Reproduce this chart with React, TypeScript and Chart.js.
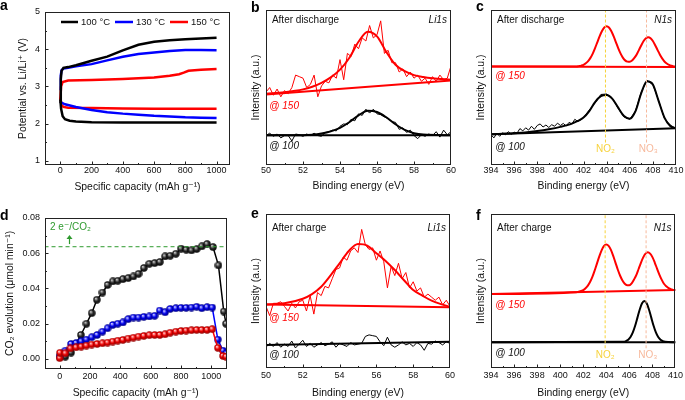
import React, { useEffect, useRef } from 'react';
import { Chart, registerables } from 'chart.js';
Chart.register(...registerables);

const FONT = "'Liberation Sans', Arial, Helvetica, 'DejaVu Sans', sans-serif";
const RED = '#ff0000';
const BLUE = '#0000ff';
const BLACK = '#000000';
const GREEN = '#2e9a2e';
const NO2C = '#f7d23c';
const NO3C = '#f7b99c';

// ---------- panel a : voltage profiles ----------
const aTicksX = [0, 200, 400, 600, 800, 1000];
const aTicksY = [1, 2, 3, 4, 5];
const aLegend = ['100 °C', '130 °C', '150 °C'];
const a100ChgX = [0, 3, 8, 20, 50, 100, 200, 300, 400, 500, 600, 700, 800, 900, 1000];
const a100ChgY = [2.55, 3.2, 3.42, 3.5, 3.52, 3.57, 3.69, 3.8, 3.97, 4.12, 4.2, 4.24, 4.27, 4.29, 4.31];
const a100DisX = [0, 5, 15, 30, 60, 100, 200, 400, 600, 800, 1000];
const a100DisY = [2.65, 2.4, 2.2, 2.12, 2.08, 2.06, 2.04, 2.03, 2.03, 2.03, 2.03];
const a130ChgX = [0, 3, 8, 20, 50, 100, 200, 300, 400, 500, 600, 700, 800, 900, 1000];
const a130ChgY = [2.9, 3.3, 3.44, 3.48, 3.5, 3.54, 3.6, 3.7, 3.8, 3.87, 3.91, 3.95, 3.98, 3.98, 3.97];
const a130DisX = [0, 10, 30, 100, 200, 300, 400, 500, 600, 700, 800, 900, 1000];
const a130DisY = [2.6, 2.56, 2.52, 2.45, 2.37, 2.31, 2.27, 2.24, 2.21, 2.19, 2.17, 2.16, 2.15];
const a150ChgX = [0, 5, 15, 50, 200, 400, 600, 700, 760, 790, 820, 900, 1000];
const a150ChgY = [2.65, 3.0, 3.12, 3.16, 3.17, 3.2, 3.24, 3.29, 3.33, 3.37, 3.42, 3.45, 3.47];
const a150DisX = [0, 8, 20, 50, 200, 400, 600, 800, 1000];
const a150DisY = [2.7, 2.5, 2.45, 2.43, 2.42, 2.41, 2.4, 2.4, 2.4];

// ---------- panel d : CO2 evolution ----------
const dTicksX = [0, 200, 400, 600, 800, 1000];
const dTicksY = [0, 0.02, 0.04, 0.06, 0.08];
const dLimit = 0.0637;
const d100X = [0, 37, 75, 107, 140, 176, 211, 245, 282, 316, 350, 383, 417, 452, 486, 520, 555, 591, 626, 660, 695, 729, 766, 800, 834, 869, 903, 937, 972, 1011, 1047, 1082, 1097];
const d100Y = [0.001, 0.0013, 0.0036, 0.0085, 0.0136, 0.02, 0.026, 0.0336, 0.0377, 0.042, 0.044, 0.0444, 0.0453, 0.0459, 0.0468, 0.0483, 0.0516, 0.054, 0.0544, 0.055, 0.0582, 0.0586, 0.0597, 0.0626, 0.062, 0.0616, 0.0624, 0.0639, 0.0652, 0.0635, 0.0531, 0.0269, 0.02];
const d130X = [0, 37, 75, 108, 142, 176, 211, 247, 282, 316, 350, 383, 417, 452, 486, 520, 555, 591, 626, 660, 695, 729, 766, 800, 834, 869, 903, 937, 972, 1006, 1043, 1077, 1097];
const d130Y = [0.0017, 0.0047, 0.0085, 0.009, 0.01, 0.011, 0.0123, 0.0136, 0.0155, 0.0174, 0.0193, 0.02, 0.0207, 0.0226, 0.0235, 0.0235, 0.0239, 0.0241, 0.0245, 0.0275, 0.0265, 0.0284, 0.0288, 0.029, 0.029, 0.0292, 0.0296, 0.0288, 0.0294, 0.0292, 0.011, 0.0047, 0.003];
const d150X = [0, 2, 37, 71, 108, 142, 176, 211, 247, 282, 316, 350, 383, 417, 452, 486, 520, 555, 591, 626, 660, 695, 729, 766, 800, 834, 869, 903, 937, 972, 1006, 1043, 1077, 1097];
const d150Y = [0.0005, 0.0035, 0.0032, 0.006, 0.0066, 0.007, 0.0076, 0.0082, 0.0085, 0.0089, 0.0093, 0.0099, 0.0104, 0.0108, 0.0116, 0.0121, 0.0127, 0.0131, 0.0135, 0.0136, 0.0136, 0.014, 0.0149, 0.0155, 0.0159, 0.0161, 0.0163, 0.0165, 0.0165, 0.0165, 0.0169, 0.0063, 0.0017, 0.0013];

// ---------- Li1s spectra (b, e) ----------
const liTicks = [50, 52, 54, 56, 58, 60];
const liX = [50, 50.2, 50.4, 50.6, 50.8, 51, 51.2, 51.4, 51.6, 51.8, 52, 52.2, 52.4, 52.6, 52.8, 53, 53.2, 53.4, 53.6, 53.8, 54, 54.2, 54.4, 54.6, 54.8, 55, 55.2, 55.4, 55.6, 55.8, 56, 56.2, 56.4, 56.6, 56.8, 57, 57.2, 57.4, 57.6, 57.8, 58, 58.2, 58.4, 58.6, 58.8, 59, 59.2, 59.4, 59.6, 59.8, 60];
const bRedRaw = [47, 50, 45, 49, 44, 48, 46, 50, 58, 57, 56, 50, 52, 58, 44, 51, 54, 53, 58, 56, 68, 55, 72, 70, 78, 75, 82, 80, 90, 82, 84, 93, 72, 74, 66, 66, 60, 62, 57, 60, 56, 58, 54, 56, 52, 57, 54, 58, 55, 56, 64];
const bRedFitX = [50, 51, 52, 52.5, 53, 53.5, 54, 54.5, 55, 55.5, 56, 56.5, 57, 57.5, 58, 58.5, 59, 60];
const bRedFitY = [46, 47, 48.8, 50.5, 53, 56.5, 61.5, 69, 79.5, 86, 83, 73, 64.7, 60.5, 58, 56.8, 56, 55];
const bRedBaseX = [50, 60];
const bRedBaseY = [45.5, 54.5];
const bBlkRaw = [19, 20.5, 18.5, 20, 17.5, 19, 19, 15.5, 20, 19.5, 18.5, 20, 19, 20.5, 19, 18.5, 21, 21.5, 22.5, 22, 25, 26.5, 26, 29.5, 28.5, 33, 32, 36, 33.5, 36, 33, 32.5, 31, 30, 28, 27.5, 23, 24, 21, 22.5, 19, 17, 19.5, 18.5, 20, 19, 21.5, 18, 22.5, 19.5, 21.5];
const bBlkFitX = [50, 52, 52.5, 53, 53.5, 54, 54.5, 55, 55.5, 56, 56.5, 57, 57.5, 58, 58.5, 60];
const bBlkFitY = [19.2, 19.2, 19.5, 20.3, 21.7, 24, 27.6, 32, 35, 34.2, 30.8, 26.3, 22.6, 20.5, 19.6, 19.2];
const bBlkBaseX = [50, 60];
const bBlkBaseY = [19.2, 19.2];

const eRedRaw = [40, 34, 42, 42, 43, 40, 37, 42, 39, 43, 44, 37, 47, 35, 49, 47, 53, 52, 58, 64, 65, 72, 70, 76, 78, 75, 90, 80, 77, 78, 70, 76, 69, 52, 66, 60, 68, 58, 62, 52, 56, 50, 52, 46, 48, 46, 44, 46, 41, 44, 40];
const eRedFitX = [50, 51, 52, 52.5, 53, 53.5, 54, 54.5, 55, 55.5, 56, 56.5, 57, 57.5, 58, 58.5, 59, 59.5, 60];
const eRedFitY = [41.3, 42, 45, 48, 52.8, 60, 68, 76, 80.5, 79.5, 74.5, 69.5, 63.6, 57, 50.6, 47, 43.7, 41.5, 39.8];
const eRedBaseX = [50, 60];
const eRedBaseY = [41.3, 39.4];
const eBlkRaw = [13.5, 16, 14, 16.5, 13.5, 15.5, 14, 17.5, 13, 15.5, 18, 14, 16, 13.5, 15, 16.5, 14.5, 15.5, 17, 13.5, 16, 15, 14, 16.5, 15, 15.5, 16, 20.5, 21.5, 21, 20.5, 17, 14.5, 20, 15, 13.5, 15, 17, 15, 16, 14, 16.5, 15, 11.5, 16, 15.5, 17.5, 16.5, 15, 17, 16];
const eBlkBaseX = [50, 60];
const eBlkBaseY = [15, 17];

// ---------- N1s spectra (c, f) ----------
const nTicks = [394, 396, 398, 400, 402, 404, 406, 408, 410];
const no2Pos = 403.9;
const no3Pos = 407.45;
const cRedFitX = [394, 401.4, 401.6, 401.8, 402, 402.2, 402.4, 402.6, 402.8, 403, 403.2, 403.4, 403.6, 403.8, 404, 404.2, 404.4, 404.6, 404.8, 405, 405.2, 405.4, 405.6, 405.8, 406, 406.2, 406.4, 406.6, 406.8, 407, 407.2, 407.4, 407.6, 407.8, 408, 408.2, 408.4, 408.6, 408.8, 409, 409.2, 409.4, 409.6, 409.8, 410];
const cRedFitY = [63.5, 63.5, 63.8, 64.1, 64.6, 65.6, 67.0, 69.1, 71.9, 75.4, 79.3, 83.1, 86.4, 88.7, 89.5, 88.7, 86.4, 83.1, 79.3, 75.4, 72.0, 69.3, 67.5, 66.7, 66.6, 67.4, 69.1, 71.3, 74.3, 77.3, 80.0, 81.8, 82.5, 81.8, 80.0, 77.3, 74.3, 71.3, 68.8, 66.8, 65.5, 64.6, 64.0, 63.6, 63.5];
const cRedBaseX = [394, 410];
const cRedBaseY = [63.6, 63.3];
const cBlkRawX = [394, 394.25, 394.5, 394.75, 395, 395.25, 395.5, 395.75, 396, 396.25, 396.5, 396.75, 397, 397.25, 397.5, 397.75, 398, 398.25, 398.5, 398.75, 399, 399.25, 399.5, 399.75, 400, 400.25, 400.5, 400.75, 401, 401.25, 401.5, 401.75, 402, 402.5, 403, 403.5, 404, 404.5, 405, 405.5, 406, 406.5, 407, 407.5, 408, 408.5, 409, 409.5, 410];
const cBlkRawY = [19.5, 17.5, 20.5, 18.5, 20.8, 19.5, 21.5, 19.8, 21.2, 20.5, 23.5, 22, 24, 22.5, 25, 23, 25.5, 26.5, 24.5, 25.8, 24.2, 26, 25, 27, 25.5, 26.8, 25.2, 27.5, 26.5, 29.5, 28, 29, 30.5, 35.5, 40, 45.5, 45.8, 43, 36.5, 31, 29.5, 35, 47, 54.5, 52, 41.5, 30, 25.8, 23.5];
const cBlkFitX = [394, 396, 398, 399, 400, 401, 401.5, 402, 402.5, 403, 403.5, 404, 404.5, 405, 405.5, 406, 406.5, 407, 407.5, 408, 408.5, 409, 409.5, 410];
const cBlkFitY = [19.9, 20.5, 22, 23.1, 24.6, 26.7, 28.4, 30.6, 34.8, 40.6, 44.4, 45.2, 42.7, 37, 31.6, 29.9, 34.8, 46.6, 54, 51.9, 41.2, 30.6, 25.2, 23.7];
const cBlkBaseX = [394, 410];
const cBlkBaseY = [19.9, 23.7];

const fRedFitX = [394, 401.4, 401.6, 401.8, 402, 402.2, 402.4, 402.6, 402.8, 403, 403.2, 403.4, 403.6, 403.8, 404, 404.2, 404.4, 404.6, 404.8, 405, 405.2, 405.4, 405.6, 405.8, 406, 406.2, 406.4, 406.6, 406.8, 407, 407.2, 407.4, 407.6, 407.8, 408, 408.2, 408.4, 408.6, 408.8, 409, 409.2, 409.4, 409.6, 409.8, 410];
const fRedFitY = [48.0, 49.2, 49.6, 50.0, 50.6, 51.8, 53.5, 56.0, 59.3, 63.5, 68.1, 72.6, 76.6, 79.3, 80.2, 79.3, 76.7, 72.8, 68.3, 63.8, 59.9, 56.8, 54.7, 53.8, 53.8, 55.0, 57.4, 60.3, 64.3, 68.3, 71.8, 74.3, 75.2, 74.3, 72.0, 68.5, 64.5, 60.7, 57.4, 54.7, 53.1, 51.9, 51.2, 50.6, 50.6];
const fRedBaseX = [394, 410];
const fRedBaseY = [48, 50.6];
const fBlkFitX = [394, 405.5, 405.7, 405.9, 406.1, 406.3, 406.5, 406.7, 406.9, 407.1, 407.3, 407.5, 407.7, 407.9, 408.1, 408.3, 408.5, 408.7, 408.9, 409.1, 410];
const fBlkFitY = [16.7, 17.0, 17.4, 18.3, 20.1, 23.1, 27.4, 32.7, 38.0, 42.0, 43.5, 42.0, 38.0, 32.7, 27.4, 23.1, 20.1, 18.3, 17.4, 17.0, 16.7];
const fBlkBaseX = [394, 410];
const fBlkBaseY = [16.7, 16.7];

// ---------- helpers ----------
type Geo = { w: number; h: number; L: number; T: number; R: number; B: number };
type Txt = { t: string; x: number; y: number; c?: string; f?: string; al?: CanvasTextAlign; px?: boolean };
type DecoCfg = {
  letter: string; lx: number; ly: number;
  xMajor: number[]; yMajor?: number[];
  texts: Txt[];
  legend?: { c: string; t: string; x1: number; x2: number; tx: number; y: number }[];
  arrow?: { x: number; y1: number; y2: number; c: string };
};

const f10 = `10px ${FONT}`;
const i10 = `italic 10px ${FONT}`;

function pts(xs: number[], ys: number[]) {
  return xs.map((x, i) => ({ x, y: ys[i] }));
}
function line(xs: number[], ys: number[], color: string, width: number, extra: any = {}) {
  return { data: pts(xs, ys), borderColor: color, backgroundColor: color, borderWidth: width, pointRadius: 0, tension: 0, ...extra };
}
function minors(major: number[], min: number, max: number) {
  const step = major[1] - major[0];
  const out: number[] = [major[0] - step / 2];
  major.forEach((v) => out.push(v + step / 2));
  return out.filter((v) => v > min && v < max);
}

function deco(d: DecoCfg) {
  return {
    id: 'deco',
    afterDraw(chart: any) {
      const ctx = chart.ctx as CanvasRenderingContext2D;
      const a = chart.chartArea;
      const xs = chart.scales.x;
      const ys = chart.scales.y;
      ctx.save();
      ctx.strokeStyle = '#222';
      ctx.lineWidth = 1;
      ctx.beginPath();
      const tx = (v: number, len: number) => {
        const p = Math.round(xs.getPixelForValue(v)) + 0.5;
        if (p < a.left + 1 || p > a.right - 1) return;
        ctx.moveTo(p, a.bottom);
        ctx.lineTo(p, a.bottom - len);
      };
      const ty = (v: number, len: number) => {
        const p = Math.round(ys.getPixelForValue(v)) + 0.5;
        if (p < a.top + 1 || p > a.bottom - 1) return;
        ctx.moveTo(a.left, p);
        ctx.lineTo(a.left + len, p);
      };
      d.xMajor.forEach((v) => tx(v, 3.5));
      minors(d.xMajor, xs.min, xs.max).forEach((v) => tx(v, 2));
      if (d.yMajor) {
        d.yMajor.forEach((v) => ty(v, 3.5));
        minors(d.yMajor, ys.min, ys.max).forEach((v) => ty(v, 2));
      }
      ctx.stroke();
      ctx.strokeRect(Math.round(a.left) + 0.5, Math.round(a.top) + 0.5, Math.round(a.right - a.left) - 1, Math.round(a.bottom - a.top) - 1);

      for (const t of d.texts) {
        ctx.font = t.f || f10;
        ctx.fillStyle = t.c || '#111';
        ctx.textAlign = t.al || 'left';
        ctx.textBaseline = 'middle';
        const px = t.px ? t.x : xs.getPixelForValue(t.x);
        const py = t.px ? t.y : ys.getPixelForValue(t.y);
        ctx.fillText(t.t, px, py);
      }
      if (d.legend) {
        for (const l of d.legend) {
          ctx.strokeStyle = l.c;
          ctx.lineWidth = 2.5;
          ctx.beginPath();
          ctx.moveTo(l.x1, l.y);
          ctx.lineTo(l.x2, l.y);
          ctx.stroke();
          ctx.font = `9.5px ${FONT}`;
          ctx.fillStyle = '#111';
          ctx.textAlign = 'left';
          ctx.textBaseline = 'middle';
          ctx.fillText(l.t, l.tx, l.y);
        }
      }
      if (d.arrow) {
        const ar = d.arrow;
        const x = Math.round(xs.getPixelForValue(ar.x)) + 0.5;
        const y1 = ys.getPixelForValue(ar.y1);
        const y2 = ys.getPixelForValue(ar.y2);
        ctx.strokeStyle = ar.c;
        ctx.fillStyle = ar.c;
        ctx.lineWidth = 1.2;
        ctx.beginPath();
        ctx.moveTo(x, y1);
        ctx.lineTo(x, y2 + 3);
        ctx.stroke();
        ctx.beginPath();
        ctx.moveTo(x, y2);
        ctx.lineTo(x - 3, y2 + 4);
        ctx.lineTo(x + 3, y2 + 4);
        ctx.closePath();
        ctx.fill();
      }
      ctx.font = `bold 14px ${FONT}`;
      ctx.fillStyle = '#000';
      ctx.textAlign = 'left';
      ctx.textBaseline = 'alphabetic';
      ctx.fillText(d.letter, d.lx, d.ly);
      ctx.restore();
    },
  };
}

function scaleX(g: Geo, min: number, max: number, ticks: number[], title: string, titlePad: number, tickPad: number) {
  return {
    type: 'linear', position: 'bottom', min, max,
    grid: { display: false, drawTicks: false },
    border: { display: false },
    afterBuildTicks: (s: any) => { s.ticks = ticks.map((v) => ({ value: v })); },
    afterFit: (s: any) => { s.height = g.h - g.B; },
    ticks: { color: '#111', padding: tickPad, maxRotation: 0, autoSkip: false, font: { family: FONT, size: 9 }, callback: (v: any) => String(v) },
    title: { display: true, text: title, color: '#111', font: { family: FONT, size: 10.4 }, padding: { top: 0, bottom: titlePad } },
  };
}
function scaleY(g: Geo, min: number, max: number, ticks: number[] | null, title: string, titlePad: number, fmt: (v: number) => string) {
  return {
    type: 'linear', position: 'left', min, max,
    grid: { display: false, drawTicks: false },
    border: { display: false },
    afterBuildTicks: (s: any) => { if (ticks) s.ticks = ticks.map((v) => ({ value: v })); },
    afterFit: (s: any) => { s.width = g.L; },
    ticks: { display: !!ticks, color: '#111', padding: 5, font: { family: FONT, size: 9 }, callback: (v: any) => fmt(Number(v)) },
    title: { display: true, text: title, color: '#111', font: { family: FONT, size: 10.4 }, padding: { top: titlePad, bottom: 0 } },
  };
}
function config(g: Geo, datasets: any[], x: any, y: any, d: DecoCfg) {
  return {
    type: 'line',
    data: { datasets },
    options: {
      animation: false, responsive: false, devicePixelRatio: 1, events: [],
      layout: { padding: { left: 0, top: g.T, right: g.w - g.R, bottom: 0 } },
      plugins: { legend: { display: false }, tooltip: { enabled: false } },
      scales: { x, y },
    },
    plugins: [deco(d)],
  } as any;
}

function sphere(dark: string, mid: string, light: string) {
  const c = document.createElement('canvas');
  c.width = 8;
  c.height = 8;
  const g = c.getContext('2d')!;
  const grad = g.createRadialGradient(2.8, 2.6, 0.1, 4, 4, 3.9);
  grad.addColorStop(0, '#ffffff');
  grad.addColorStop(0.18, light);
  grad.addColorStop(0.5, mid);
  grad.addColorStop(1, dark);
  g.fillStyle = grad;
  g.beginPath();
  g.arc(4, 4, 3.7, 0, Math.PI * 2);
  g.fill();
  return c;
}

// ---------- panel builders ----------
const gA: Geo = { w: 232, h: 200, L: 45, T: 12, R: 230, B: 165 };
const gB: Geo = { w: 225, h: 200, L: 34, T: 10, R: 219, B: 165 };
const gC: Geo = { w: 228, h: 200, L: 34, T: 10, R: 219, B: 165 };
const gD: Geo = { w: 232, h: 200, L: 45, T: 18, R: 230, B: 169 };
const gE: Geo = { w: 225, h: 200, L: 34, T: 14, R: 219, B: 168 };
const gF: Geo = { w: 228, h: 200, L: 34, T: 14, R: 219, B: 168 };

const capTitle = 'Specific capacity (mAh g\u207B\u00B9)';
const beTitle = 'Binding energy (eV)';
const intTitle = 'Intensity (a.u.)';

function makeA() {
  const ds = [
    line(a100ChgX, a100ChgY, BLACK, 2.5),
    line(a100DisX, a100DisY, BLACK, 2.5),
    line(a130ChgX, a130ChgY, BLUE, 2.5),
    line(a130DisX, a130DisY, BLUE, 2.5),
    line(a150ChgX, a150ChgY, RED, 2.5),
    line(a150DisX, a150DisY, RED, 2.5),
  ];
  return config(gA, ds,
    scaleX(gA, -98, 1086, aTicksX, capTitle, 6.8, 0),
    scaleY(gA, 0.89, 5, aTicksY, 'Potential vs. Li/Li\u207A (V)', 16.8, (v) => String(v)),
    {
      letter: 'a', lx: 0, ly: 10, xMajor: aTicksX, yMajor: aTicksY, texts: [],
      legend: [
        { c: BLACK, t: aLegend[0], x1: 61, x2: 78, tx: 81, y: 22 },
        { c: BLUE, t: aLegend[1], x1: 115, x2: 133, tx: 136, y: 22 },
        { c: RED, t: aLegend[2], x1: 170, x2: 188, tx: 191, y: 22 },
      ],
    });
}

function makeD() {
  const pd = { pointRadius: 3.5, borderWidth: 1.5 };
  const ds = [
    line([-100, 1100], [dLimit, dLimit], GREEN, 1, { borderDash: [4, 3] }),
    line(d150X, d150Y, RED, 1.5, { ...pd, pointStyle: sphere('#8a0000', '#ee0000', '#ff9a9a') }),
    line(d130X, d130Y, BLUE, 1.5, { ...pd, pointStyle: sphere('#00007a', '#0000ee', '#9a9aff') }),
    line(d100X, d100Y, BLACK, 1.5, { ...pd, pointStyle: sphere('#000000', '#2a2a2a', '#a0a0a0') }),
  ];
  return config(gD, ds,
    scaleX(gD, -97, 1100, dTicksX, capTitle, 0.8, 2),
    scaleY(gD, -0.0057, 0.08, dTicksY, 'CO\u2082 evolution (\u03BCmol min\u207B\u00B9)', 3.8, (v) => v.toFixed(2)),
    {
      letter: 'd', lx: 0, ly: 20, xMajor: dTicksX, yMajor: [0, 0.02, 0.04, 0.06],
      texts: [{ t: '2 e\u207B/CO\u2082', x: 50, y: 27, c: GREEN, px: true }],
      arrow: { x: 64.5, y1: 0.0652, y2: 0.0703, c: GREEN },
    });
}

function makeLi(g: Geo, letter: string, ly: number, state: string, red: any[], blk: any[], t150: number, t100: number, tTop: number) {
  return config(g, [...blk, ...red],
    scaleX(g, 50, 60, liTicks, beTitle, g.B > 166 ? 0.8 : 7.8, g.B > 166 ? 2 : 0),
    scaleY(g, 0, 100, null, intTitle, 17.8, (v) => String(v)),
    {
      letter, lx: 19, ly, xMajor: liTicks,
      texts: [
        { t: state, x: 50.32, y: tTop },
        { t: 'Li1s', x: 59.78, y: tTop, f: i10, al: 'right' },
        { t: '@ 150', x: 50.18, y: t150, f: i10, c: RED },
        { t: '@ 100', x: 50.18, y: t100, f: i10 },
      ],
    });
}

function makeN(g: Geo, letter: string, ly: number, state: string, red: any[], blk: any[], t150: number, t100: number, tTop: number, tNO: number, dashLow: number) {
  const ds = [
    line([no2Pos, no2Pos], [dashLow, 100], NO2C, 1, { borderDash: [3, 2] }),
    line([no3Pos, no3Pos], [dashLow, 100], NO3C, 1, { borderDash: [3, 2] }),
    ...blk, ...red,
  ];
  return config(g, ds,
    scaleX(g, 394, 410, nTicks, beTitle, g.B > 166 ? 0.8 : 7.8, g.B > 166 ? 2 : 0),
    scaleY(g, 0, 100, null, intTitle, 17.8, (v) => String(v)),
    {
      letter, lx: 19, ly, xMajor: nTicks,
      texts: [
        { t: state, x: 394.52, y: tTop },
        { t: 'N1s', x: 409.65, y: tTop, f: i10, al: 'right' },
        { t: '@ 150', x: 394.37, y: t150, f: i10, c: RED },
        { t: '@ 100', x: 394.37, y: t100, f: i10 },
        { t: 'NO\u2082', x: no2Pos, y: tNO, c: NO2C, al: 'center' },
        { t: 'NO\u2083', x: no3Pos + 0.15, y: tNO, c: NO3C, al: 'center' },
      ],
    });
}

function makeB() {
  return makeLi(gB, 'b', 12, 'After discharge',
    [line(liX, bRedRaw, RED, 1), line(bRedBaseX, bRedBaseY, RED, 2), line(bRedFitX, bRedFitY, RED, 2, { cubicInterpolationMode: 'monotone' })],
    [line(liX, bBlkRaw, BLACK, 1), line(bBlkBaseX, bBlkBaseY, BLACK, 2), line(bBlkFitX, bBlkFitY, BLACK, 2, { cubicInterpolationMode: 'monotone' })],
    38, 12.4, 93.6);
}
function makeE() {
  return makeLi(gE, 'e', 18, 'After charge',
    [line(liX, eRedRaw, RED, 1), line(eRedBaseX, eRedBaseY, RED, 2), line(eRedFitX, eRedFitY, RED, 2, { cubicInterpolationMode: 'monotone' })],
    [line(liX, eBlkRaw, BLACK, 1), line(eBlkBaseX, eBlkBaseY, BLACK, 2)],
    32.3, 8, 90.7);
}
function makeC() {
  return makeN(gC, 'c', 11, 'After discharge',
    [line(cRedBaseX, cRedBaseY, RED, 2), line(cRedFitX, cRedFitY, RED, 2, { cubicInterpolationMode: 'monotone' })],
    [line(cBlkRawX, cBlkRawY, BLACK, 1), line(cBlkBaseX, cBlkBaseY, BLACK, 2), line(cBlkFitX, cBlkFitY, BLACK, 2, { cubicInterpolationMode: 'monotone' })],
    57.2, 11.3, 93.6, 10.3, 14.5);
}
function makeF() {
  return makeN(gF, 'f', 20, 'After charge',
    [line(fRedBaseX, fRedBaseY, RED, 2), line(fRedFitX, fRedFitY, RED, 2, { cubicInterpolationMode: 'monotone' })],
    [line(fBlkBaseX, fBlkBaseY, BLACK, 2), line(fBlkFitX, fBlkFitY, BLACK, 2, { cubicInterpolationMode: 'monotone' })],
    40.9, 9.9, 90.7, 8, 12.8);
}

function Panel({ left, top, g, make }: { left: number; top: number; g: Geo; make: () => any }) {
  const ref = useRef<HTMLCanvasElement>(null);
  useEffect(() => {
    const chart = new Chart(ref.current as HTMLCanvasElement, make());
    return () => chart.destroy();
  }, []);
  return <canvas ref={ref} width={g.w} height={g.h} style={{ position: 'absolute', left, top, width: g.w, height: g.h }} />;
}

export default function App() {
  return (
    <div style={{ position: 'absolute', left: 0, top: 0, width: 685, height: 400, background: '#fff', overflow: 'hidden' }}>
      <Panel left={0} top={0} g={gA} make={makeA} />
      <Panel left={232} top={0} g={gB} make={makeB} />
      <Panel left={457} top={0} g={gC} make={makeC} />
      <Panel left={0} top={200} g={gD} make={makeD} />
      <Panel left={232} top={200} g={gE} make={makeE} />
      <Panel left={457} top={200} g={gF} make={makeF} />
    </div>
  );
}
